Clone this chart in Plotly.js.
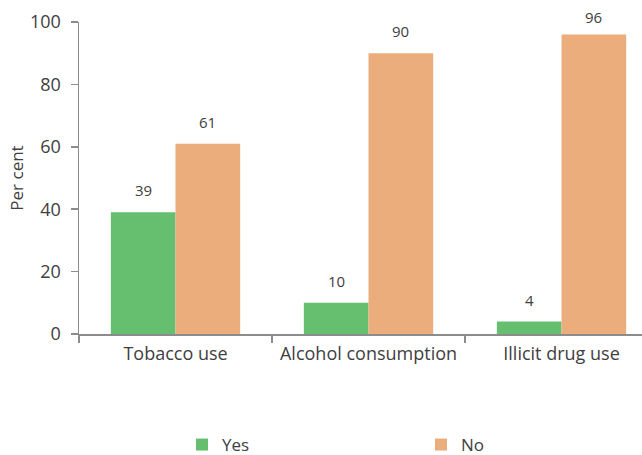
<!DOCTYPE html>
<html>
<head>
<meta charset="utf-8">
<script src="https://cdn.plot.ly/plotly-3.0.1.min.js"></script>
<style>html,body{margin:0;padding:0;background:#fff;}#chart{width:642px;height:455px;}</style>
</head>
<body>
<div id="chart"></div>
<script>
const categories = ["Tobacco use", "Alcohol consumption", "Illicit drug use"];
const yesValues = [39, 10, 4];
const noValues = [61, 90, 96];
const seriesNames = ["Yes", "No"];
const yTicks = [0, 20, 40, 60, 80, 100];

const green = "#66bf6f";
const orange = "#ebad7c";
const textColor = "#404040";
const fontFam = "'Open Sans', 'Noto Sans', sans-serif";

const traces = [
  {type: "bar", name: seriesNames[0], x: categories, y: yesValues, marker: {color: green}, hoverinfo: "none"},
  {type: "bar", name: seriesNames[1], x: categories, y: noValues, marker: {color: orange}, hoverinfo: "none"}
];

const annotations = [];
[yesValues, noValues].forEach((vals, si) => {
  vals.forEach((v, i) => {
    annotations.push({
      x: i + (si === 0 ? -0.167 : 0.167), y: v, xref: "x", yref: "y",
      text: String(v), showarrow: false, yanchor: "bottom",
      yshift: v > 92 ? 5 : 10,
      font: {family: fontFam, size: 15, color: textColor}
    });
  });
});

const layout = {
  width: 642, height: 455,
  margin: {l: 79, r: 0, t: 22, b: 121},
  paper_bgcolor: "#fff", plot_bgcolor: "#fff",
  barmode: "group", bargap: 0.33, bargroupgap: 0,
  font: {family: fontFam, color: textColor},
  xaxis: {
    type: "category", range: [-0.5, 2.417],
    showline: true, linecolor: "#8c8c8c", linewidth: 1.5,
    ticks: "outside", tickson: "boundaries", ticklen: 7, tickcolor: "#8c8c8c", tickwidth: 1.5,
    ticklabelstandoff: 3,
    tickfont: {family: fontFam, size: 18, color: textColor},
    showgrid: false, zeroline: false, fixedrange: true
  },
  yaxis: {
    range: [0, 100], tickmode: "array", tickvals: yTicks,
    showline: true, linecolor: "#8c8c8c", linewidth: 1.5,
    ticks: "outside", ticklen: 7, tickcolor: "#8c8c8c", tickwidth: 1.5,
    ticklabelstandoff: 6,
    tickfont: {family: fontFam, size: 18, color: textColor},
    showgrid: false, zeroline: false,
    title: {text: "Per cent", font: {family: fontFam, size: 17, color: textColor}, standoff: 2}
  },
  legend: {
    orientation: "h", xref: "container", x: 182 / 642, xanchor: "left",
    yref: "container", y: 10 / 455, yanchor: "middle",
    entrywidth: 194, entrywidthmode: "pixels", itemwidth: 30,
    font: {family: fontFam, size: 17, color: textColor}
  },
  annotations: annotations,
  showlegend: true
};

Plotly.newPlot("chart", traces, layout, {displayModeBar: false, staticPlot: true});
</script>
</body>
</html>
